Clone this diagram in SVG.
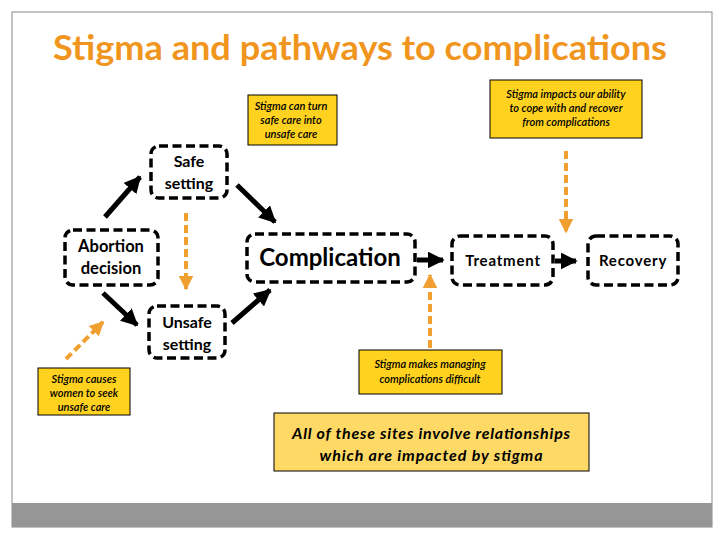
<svg xmlns="http://www.w3.org/2000/svg" width="720" height="540" viewBox="0 0 720 540">
<defs>
<style>
.node rect{fill:#fff;stroke:#000;stroke-width:3.5;stroke-dasharray:9 4.5}
.node text{font-family:Lato,"Liberation Sans",sans-serif;font-weight:bold;fill:#000;text-anchor:middle}
.note rect{fill:#FFD21F;stroke:#000;stroke-width:1}
.note text{font-family:Lato,"Liberation Sans",sans-serif;font-style:italic;font-weight:600;font-size:11px;fill:#000;text-anchor:middle}
.blk{stroke:#000;stroke-width:5;fill:none;marker-end:url(#ab)}
.org{stroke:#F0A030;stroke-width:4;stroke-dasharray:8 4;fill:none;marker-end:url(#ao)}
</style>
<marker id="ab" viewBox="0 0 10 10" refX="9" refY="5" markerWidth="3.4" markerHeight="3.4" orient="auto" markerUnits="strokeWidth"><path d="M0,0 L10,5 L0,10 z" fill="#000"/></marker>
<marker id="ao" viewBox="0 0 10 10" refX="9" refY="5" markerWidth="3.6" markerHeight="3.6" orient="auto" markerUnits="strokeWidth"><path d="M0,0 L10,5 L0,10 z" fill="#F0A030"/></marker>
</defs>
<rect x="0" y="0" width="720" height="540" fill="#fff"/>
<rect x="12" y="12" width="700" height="515" fill="#fff" stroke="#888" stroke-width="1"/>
<rect x="12" y="503" width="700" height="24" fill="#969696"/>
<text x="360" y="60" text-anchor="middle" font-family="Lato,'Liberation Sans',sans-serif" font-weight="bold" font-size="35" fill="#F0961E" textLength="614" lengthAdjust="spacingAndGlyphs">Stigma and pathways to complications</text>

<g id="connectors">
<line class="blk" x1="105" y1="217" x2="140" y2="177"/>
<line class="blk" x1="237" y1="185" x2="275" y2="222"/>
<line class="blk" x1="103" y1="293" x2="137" y2="325"/>
<line class="blk" x1="232" y1="323" x2="270" y2="290"/>
<line class="blk" x1="417" y1="260" x2="443" y2="260"/>
<line class="blk" x1="555" y1="261" x2="576" y2="261"/>
<line class="org" x1="186" y1="213" x2="186" y2="289"/>
<line class="org" x1="566" y1="151" x2="566" y2="232"/>
<line class="org" x1="430" y1="348" x2="430" y2="275"/>
<line class="org" x1="66" y1="359" x2="103" y2="322"/>
</g>

<g id="safe" class="node"><rect x="151" y="146" width="76" height="52" rx="8"/><text x="189" y="167" font-size="16">Safe</text><text x="189" y="189" font-size="16">setting</text></g>
<g id="abortion" class="node"><rect x="65" y="230" width="93" height="55" rx="8"/><text x="111" y="252" font-size="16.5">Abortion</text><text x="111" y="274" font-size="16.5">decision</text></g>
<g id="unsafe" class="node"><rect x="149" y="306" width="76" height="52" rx="8"/><text x="187" y="328" font-size="16">Unsafe</text><text x="187" y="350" font-size="16">setting</text></g>
<g id="complication" class="node"><rect x="247" y="234" width="168" height="48" rx="8"/><text x="330" y="266" font-size="24" font-weight="600">Complication</text></g>
<g id="treatment" class="node"><rect x="452" y="236" width="101" height="49" rx="8"/><text x="503" y="266" font-size="15" letter-spacing="0.8">Treatment</text></g>
<g id="recovery" class="node"><rect x="588" y="236" width="90" height="49" rx="8"/><text x="633" y="266" font-size="15" letter-spacing="0.8">Recovery</text></g>

<g id="note-turn" class="note"><rect x="248" y="95" width="89" height="50"/><text x="291" y="110">Stigma can turn</text><text x="291" y="124">safe care into</text><text x="291" y="138">unsafe care</text></g>
<g id="note-cope" class="note"><rect x="490" y="80" width="152" height="58"/><text x="566" y="98">Stigma impacts our ability</text><text x="566" y="112">to cope with and recover</text><text x="566" y="126">from complications</text></g>
<g id="note-seek" class="note"><rect x="38" y="368" width="92" height="47"/><text x="84" y="383">Stigma causes</text><text x="84" y="397">women to seek</text><text x="84" y="411">unsafe care</text></g>
<g id="note-manage" class="note"><rect x="359" y="350" width="143" height="44"/><text x="430" y="368">Stigma makes managing</text><text x="430" y="383">complications difficult</text></g>
<g id="note-all"><rect x="274" y="413" width="315" height="58" fill="#FFD966" stroke="#000" stroke-width="1"/><text x="431" y="439" font-family="Lato,'Liberation Sans',sans-serif" font-style="italic" font-weight="bold" font-size="16" text-anchor="middle" textLength="278" lengthAdjust="spacing">All of these sites involve relationships</text><text x="431" y="461" font-family="Lato,'Liberation Sans',sans-serif" font-style="italic" font-weight="bold" font-size="16" text-anchor="middle" textLength="223" lengthAdjust="spacing">which are impacted by stigma</text></g>
</svg>
